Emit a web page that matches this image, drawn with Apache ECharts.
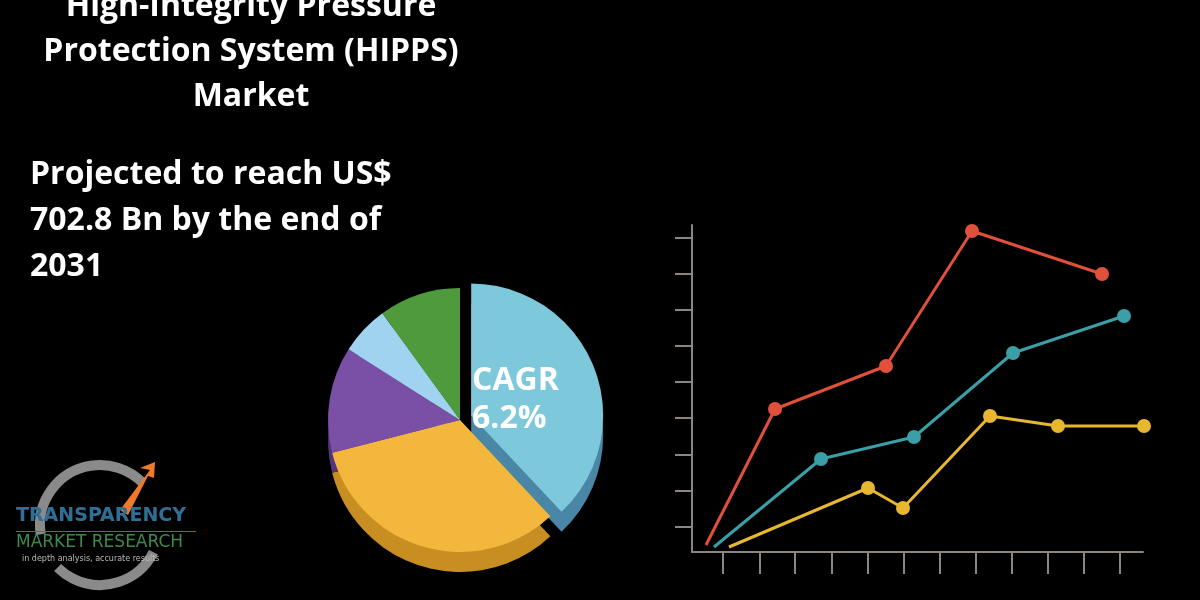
<!DOCTYPE html>
<html><head><meta charset="utf-8">
<script src="https://cdn.jsdelivr.net/npm/echarts@6/dist/echarts.min.js"></script>
<style>html,body{margin:0;background:#000}#c{width:1200px;height:600px}</style>
</head><body><div id="c"></div>
<script>
const redData=[[14,7],[83,143],[194,186],[280,321],[410,278]];
const tealData=[[22,5],[129,93],[222,115],[321,199],[432,236]];
const yellowData=[[37,5],[176,64],[211,44],[298,136],[366,126],[452,126]];
const xTicks=[31,68,103,140,176,212,248,284,320,356,392,428];
const yTicks=[25,61,97,134,170,206,242,278,314];
const pieNames=['CAGR','Yellow','Purple','Light','Green'];
const pieValues=[38,33,13,6,10];
const pieColors=['#7ec8dc','#f2b73c','#7a4fa6','#9fd3f0','#4e9a3c'];
const pieDark=['#4a86a6','#c98e22','#553579','#6a9fc0','#346e28'];
const chart=echarts.init(document.getElementById('c'));
function ls(d,c){return {type:'line',data:d.map((p,i)=>({value:p,symbolSize:i===0?0:14})),
 lineStyle:{color:c,width:3},itemStyle:{color:c},symbol:'circle',clip:false,animation:false};}
chart.setOption({
 backgroundColor:'#000',animation:false,
 grid:{left:692,right:57,top:225,bottom:48},
 xAxis:{type:'value',min:0,max:451,splitLine:{show:false},axisLabel:{show:false},
  axisLine:{lineStyle:{color:'#8c8580',width:2}},
  axisTick:{customValues:xTicks,length:22,lineStyle:{color:'#8c8580',width:2}}},
 yAxis:{type:'value',min:0,max:327,splitLine:{show:false},axisLabel:{show:false},
  axisLine:{lineStyle:{color:'#8c8580',width:2}},
  axisTick:{customValues:yTicks,length:17,lineStyle:{color:'#8c8580',width:2}}},
 series:[
  ls(redData,'#e0503a'),ls(tealData,'#3a9fa6'),ls(yellowData,'#e8b730'),
  {type:'pie',center:[460,440],radius:[0,132],startAngle:90,clockwise:true,
   label:{show:false},silent:true,z:1,
   data:pieValues.map((v,i)=>({name:pieNames[i],value:v,itemStyle:{color:pieDark[i]},selected:i===0})),
   selectedOffset:12,selectedMode:'single'},
  {type:'pie',center:[460,420],radius:[0,132],startAngle:90,clockwise:true,
   label:{show:false},silent:true,z:2,
   data:pieValues.map((v,i)=>({name:pieNames[i],value:v,itemStyle:{color:pieColors[i]},selected:i===0})),
   selectedOffset:12,selectedMode:'single'}
 ],
 graphic:[
  {type:'text',style:{text:'High-Integrity Pressure\nProtection System (HIPPS)\nMarket',x:251,y:-16,align:'center',
   fill:'#fff',font:'bold 32px "Open Sans", sans-serif',lineHeight:45}},
  {type:'text',style:{text:'Projected to reach US$\n702.8 Bn by the end of\n2031',x:30,y:152,fill:'#fff',
   font:'bold 32px "Open Sans", sans-serif',lineHeight:46}},
  {type:'text',z:10,style:{text:'CAGR\n6.2%',x:472,y:362,fill:'#fff',font:'bold 32px "Open Sans", sans-serif',lineHeight:38}},
  {type:'arc',shape:{cx:100,cy:525,r:60,startAngle:Math.PI*0.95,endAngle:Math.PI*1.75},style:{stroke:'#8a8a8a',lineWidth:10,fill:null}},
  {type:'arc',shape:{cx:100,cy:525,r:60,startAngle:Math.PI*0.15,endAngle:Math.PI*0.75},style:{stroke:'#8a8a8a',lineWidth:10,fill:null}},
  {type:'polygon',shape:{points:[[120,510],[150,470],[140,468],[155,462],[154,478],[148,476],[128,515]]},style:{fill:'#f07a2a'}},
  {type:'text',style:{text:'TRANSPARENCY',x:16,y:507,fill:'#2f6f96',font:'bold 19px "DejaVu Sans", sans-serif'}},
  {type:'rect',shape:{x:16,y:531,width:180,height:1},style:{fill:'#c0452a'}},
  {type:'text',style:{text:'MARKET RESEARCH',x:16,y:534,fill:'#3f8a4a',font:'17px "DejaVu Sans", sans-serif'}},
  {type:'text',style:{text:'in depth analysis, accurate results',x:22,y:555,fill:'#bbb',font:'8px "DejaVu Sans", sans-serif'}}
 ]
});
</script></body></html>
